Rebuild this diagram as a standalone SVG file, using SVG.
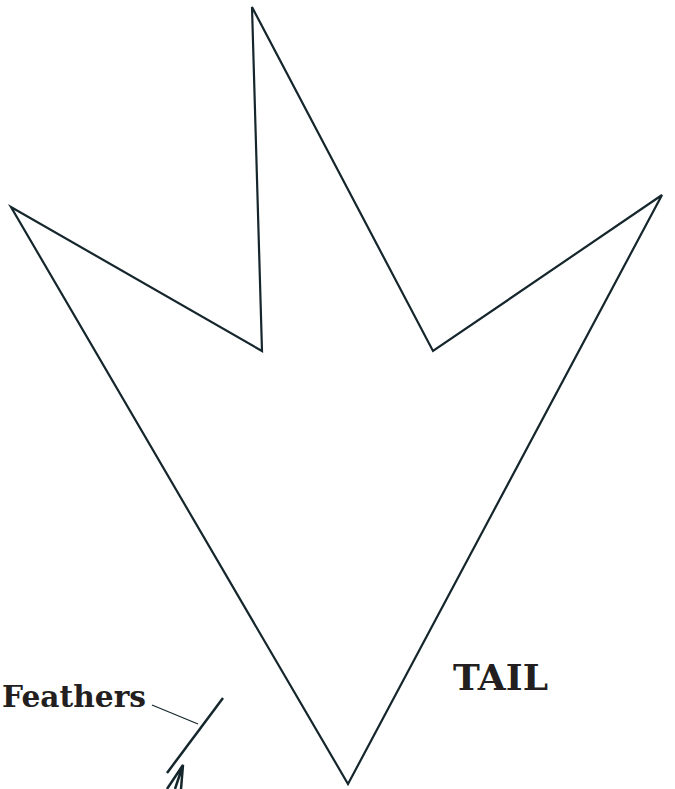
<svg xmlns="http://www.w3.org/2000/svg" width="675" height="789" viewBox="0 0 675 789">
<style>
.outline{fill:none;stroke:#15262c;stroke-width:2.2;stroke-linejoin:miter}
.thick{fill:none;stroke:#15262c;stroke-width:2.5;stroke-linecap:butt}
.leader{fill:none;stroke:#15262c;stroke-width:1.2}
.lbl{font-family:"DejaVu Serif","Liberation Serif",serif;font-weight:bold;fill:#231f20}
</style>
<rect width="675" height="789" fill="#ffffff"/>
<g id="tail-shape">
<polygon class="outline" points="252,7 262,351 11,207 348,784 662,195 433,351"/>
</g>
<g id="feathers">
<line class="thick" x1="223" y1="698" x2="167" y2="773"/>
<path class="thick" d="M167,789 L183,765 L181,789 M175,789 L183,765"/>
</g>
<g id="connectors">
<line class="leader" x1="152" y1="705" x2="198" y2="724"/>
</g>
<g id="labels">
<text class="lbl" x="2" y="707" font-size="29" textLength="144" lengthAdjust="spacingAndGlyphs">Feathers</text>
<text class="lbl" x="453" y="690" font-size="35" textLength="95" lengthAdjust="spacingAndGlyphs">TAIL</text>
</g>
</svg>
